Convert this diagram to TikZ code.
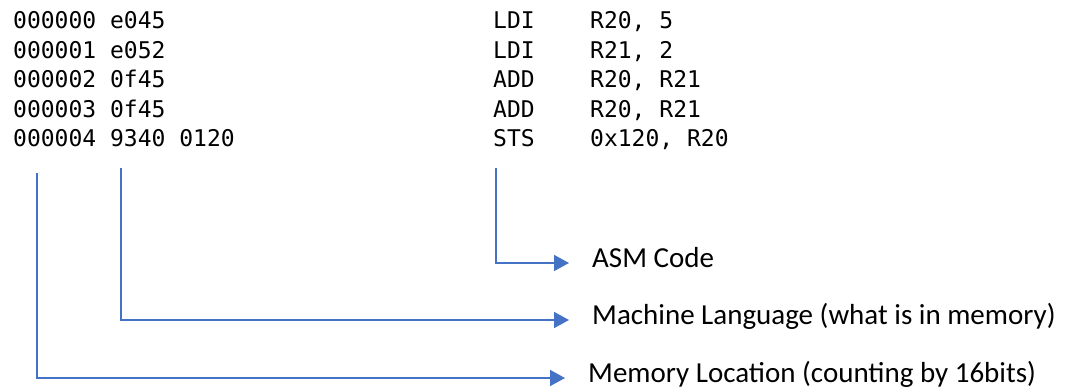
\documentclass[tikz,border=0pt]{standalone}
\usepackage{fontspec}
\setmainfont{Carlito}
\newfontfamily\codefont{DejaVu Sans Mono}
\usepackage{xcolor}
\usetikzlibrary{arrows.meta}
\definecolor{ptrblue}{RGB}{68,114,196}

\begin{document}
\begin{tikzpicture}[
    x=1pt, y=-1pt,
    listing/.style={font=\codefont\fontsize{23}{27}\selectfont, anchor=base west, inner sep=0pt},
    lbl/.style={font=\fontsize{29}{34}\selectfont, anchor=west, inner sep=0pt, text height=8pt, text depth=0pt},
    pointer/.style={draw=ptrblue, line width=1.6pt, -{Triangle[length=15pt, width=16pt]}}
  ]
    \useasboundingbox (0,0) rectangle (1070,390);

    % disassembly listing, one row per word
    \foreach \addr/\mc/\mn/\arg [count=\i] in {000000/e045/LDI/{R20, 5},
        000001/e052/LDI/{R21, 2}, 000002/0f45/ADD/{R20, R21},
        000003/0f45/ADD/{R20, R21}, 000004/{9340 0120}/STS/{0x120, R20}} {
      \pgfmathsetmacro\ycoord{29+(\i-1)*29.5}
      \node[listing] (hex\i) at (13,\ycoord) {\addr\space\mc};
      \node[listing] (mn\i) at (493,\ycoord) {\mn};
      \node[listing] (arg\i) at (590,\ycoord) {\arg};
    }

    % what each column means
    \node[lbl] (asmlbl) at (592,263) {ASM Code};
    \node[lbl] (mclbl) at (592,320) {Machine Language (what is in memory)};
    \node[lbl] (memlbl) at (588,378) {Memory Location (counting by 16bits)};

    \coordinate (asmtop) at (496,168);
    \coordinate (mctop) at (121,168);
    \coordinate (memtop) at (37,173);

    \draw[pointer] (asmtop) |- ([xshift=-23pt]asmlbl.west);
    \draw[pointer] (mctop) |- ([xshift=-23pt]mclbl.west);
    \draw[pointer] (memtop) |- ([xshift=-23pt]memlbl.west);
\end{tikzpicture}
\end{document}
